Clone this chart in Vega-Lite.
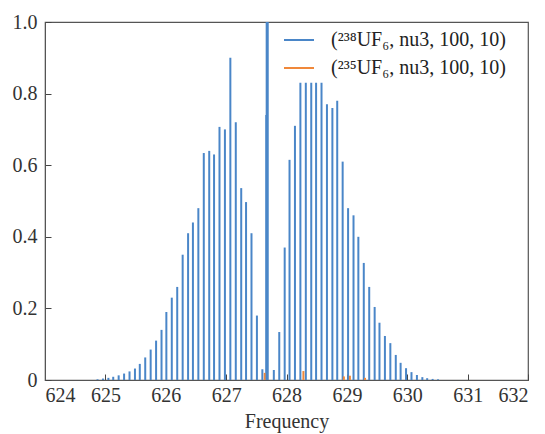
{
  "$schema": "https://vega.github.io/schema/vega-lite/v6.json",
  "autosize": "none",
  "width": 483,
  "height": 358,
  "padding": {"left": 45, "top": 22, "right": 17, "bottom": 54},
  "background": "white",
  "config": {
    "view": {"stroke": "#555", "strokeWidth": 1.2},
    "font": "Liberation Serif"
  },
  "datasets": {
    "spec": [
      {"f": 624.87, "v": 0.002, "s": "238"},
      {"f": 624.96, "v": 0.004, "s": "238"},
      {"f": 625.05, "v": 0.006, "s": "238"},
      {"f": 625.13, "v": 0.009, "s": "238"},
      {"f": 625.22, "v": 0.013, "s": "238"},
      {"f": 625.31, "v": 0.018, "s": "238"},
      {"f": 625.40, "v": 0.024, "s": "238"},
      {"f": 625.49, "v": 0.032, "s": "238"},
      {"f": 625.57, "v": 0.045, "s": "238"},
      {"f": 625.66, "v": 0.063, "s": "238"},
      {"f": 625.75, "v": 0.085, "s": "238"},
      {"f": 625.84, "v": 0.11, "s": "238"},
      {"f": 625.93, "v": 0.14, "s": "238"},
      {"f": 626.01, "v": 0.19, "s": "238"},
      {"f": 626.10, "v": 0.23, "s": "238"},
      {"f": 626.19, "v": 0.26, "s": "238"},
      {"f": 626.28, "v": 0.35, "s": "238"},
      {"f": 626.37, "v": 0.41, "s": "238"},
      {"f": 626.45, "v": 0.44, "s": "238"},
      {"f": 626.54, "v": 0.48, "s": "238"},
      {"f": 626.63, "v": 0.634, "s": "238"},
      {"f": 626.72, "v": 0.64, "s": "238"},
      {"f": 626.80, "v": 0.63, "s": "238"},
      {"f": 626.89, "v": 0.707, "s": "238"},
      {"f": 626.98, "v": 0.70, "s": "238"},
      {"f": 627.07, "v": 0.90, "s": "238"},
      {"f": 627.16, "v": 0.72, "s": "238"},
      {"f": 627.25, "v": 0.536, "s": "238"},
      {"f": 627.33, "v": 0.497, "s": "238"},
      {"f": 627.42, "v": 0.41, "s": "238"},
      {"f": 627.51, "v": 0.18, "s": "238"},
      {"f": 627.60, "v": 0.03, "s": "238"},
      {"f": 627.665, "v": 0.74, "s": "238"},
      {"f": 627.68, "v": 1.0, "s": "238"},
      {"f": 627.79, "v": 0.028, "s": "238"},
      {"f": 627.88, "v": 0.134, "s": "238"},
      {"f": 627.97, "v": 0.37, "s": "238"},
      {"f": 628.05, "v": 0.615, "s": "238"},
      {"f": 628.14, "v": 0.71, "s": "238"},
      {"f": 628.23, "v": 0.83, "s": "238"},
      {"f": 628.32, "v": 0.83, "s": "238"},
      {"f": 628.41, "v": 0.83, "s": "238"},
      {"f": 628.49, "v": 0.83, "s": "238"},
      {"f": 628.58, "v": 0.83, "s": "238"},
      {"f": 628.67, "v": 0.77, "s": "238"},
      {"f": 628.76, "v": 0.76, "s": "238"},
      {"f": 628.84, "v": 0.78, "s": "238"},
      {"f": 628.93, "v": 0.61, "s": "238"},
      {"f": 629.02, "v": 0.48, "s": "238"},
      {"f": 629.11, "v": 0.46, "s": "238"},
      {"f": 629.19, "v": 0.40, "s": "238"},
      {"f": 629.28, "v": 0.327, "s": "238"},
      {"f": 629.37, "v": 0.26, "s": "238"},
      {"f": 629.46, "v": 0.204, "s": "238"},
      {"f": 629.54, "v": 0.16, "s": "238"},
      {"f": 629.63, "v": 0.123, "s": "238"},
      {"f": 629.72, "v": 0.103, "s": "238"},
      {"f": 629.81, "v": 0.07, "s": "238"},
      {"f": 629.89, "v": 0.048, "s": "238"},
      {"f": 629.98, "v": 0.033, "s": "238"},
      {"f": 630.07, "v": 0.022, "s": "238"},
      {"f": 630.16, "v": 0.014, "s": "238"},
      {"f": 630.25, "v": 0.008, "s": "238"},
      {"f": 630.33, "v": 0.005, "s": "238"},
      {"f": 630.42, "v": 0.003, "s": "238"},
      {"f": 630.51, "v": 0.002, "s": "238"},
      {"f": 627.64, "v": 0.02, "s": "235"},
      {"f": 628.28, "v": 0.025, "s": "235"},
      {"f": 628.95, "v": 0.01, "s": "235"},
      {"f": 629.05, "v": 0.012, "s": "235"},
      {"f": 629.3, "v": 0.006, "s": "235"}
    ]
  },
  "data": {"name": "spec"},
  "encoding": {
    "x": {
      "field": "f",
      "type": "quantitative",
      "scale": {"domain": [624, 632], "nice": false, "zero": false},
      "axis": {
        "title": "Frequency",
        "values": [624, 625, 626, 627, 628, 629, 630, 631, 632],
        "format": "d",
        "grid": false,
        "tickSize": -6,
        "tickColor": "#444",
        "domainColor": "#555",
        "labelFont": "Liberation Serif",
        "labelFontSize": 20,
        "labelColor": "#333",
        "labelPadding": 11,
        "titleFont": "Liberation Serif",
        "titleFontSize": 20,
        "titleFontWeight": "normal",
        "titleColor": "#333",
        "titlePadding": 6
      }
    },
    "y": {
      "field": "v",
      "type": "quantitative",
      "scale": {"domain": [0, 1], "nice": false},
      "axis": {
        "title": null,
        "values": [0, 0.2, 0.4, 0.6, 0.8, 1.0],
        "labelExpr": "datum.value == 0 ? '0' : format(datum.value, '.1f')",
        "grid": false,
        "tickSize": -6,
        "tickColor": "#444",
        "domainColor": "#555",
        "labelFont": "Liberation Serif",
        "labelFontSize": 20,
        "labelColor": "#333",
        "labelPadding": 14
      }
    },
    "y2": {"datum": 0},
    "color": {
      "field": "s",
      "type": "nominal",
      "scale": {"domain": ["238", "235"], "range": ["#4a86c8", "#f0883a"]},
      "legend": {
        "title": null,
        "orient": "none",
        "legendX": 238,
        "legendY": 2,
        "symbolType": "stroke",
        "symbolSize": 900,
        "symbolStrokeWidth": 2,
        "labelFont": "Liberation Serif",
        "labelFontSize": 20,
        "labelLimit": 400,
        "labelColor": "#222",
        "labelOffset": 16,
        "rowPadding": 2,
        "labelExpr": "datum.value == '238' ? '(²³⁸UF₆, nu3, 100, 10)' : '(²³⁵UF₆, nu3, 100, 10)'"
      }
    }
  },
  "layer": [
    {"mark": {"type": "rule", "strokeWidth": 2, "clip": true}},
    {
      "transform": [{"filter": "datum.v >= 0.95"}],
      "mark": {"type": "rule", "strokeWidth": 3, "clip": true}
    }
  ]
}
